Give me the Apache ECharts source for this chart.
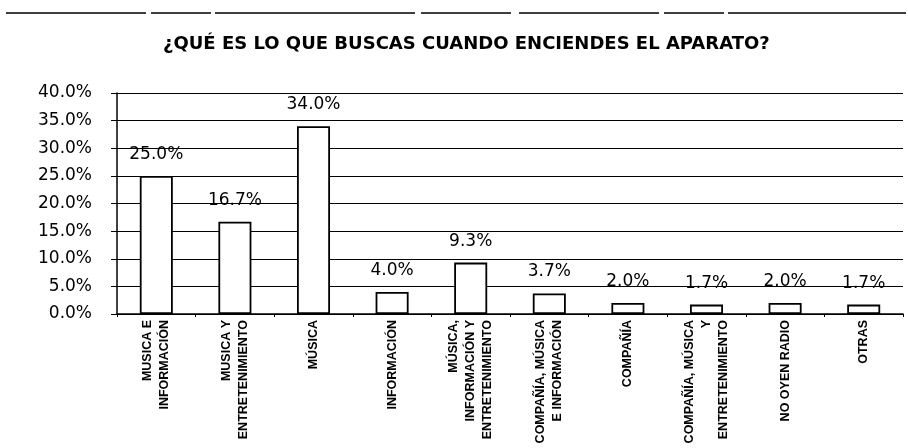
<!DOCTYPE html>
<html>
<head>
<meta charset="utf-8">
<script src="https://cdn.jsdelivr.net/npm/echarts@6/dist/echarts.min.js"></script>
<style>html,body{margin:0;padding:0;background:#fff}#c{width:908px;height:448px}</style>
</head>
<body>
<div id="c"></div>
<script>
const title = '¿QUÉ ES LO QUE BUSCAS CUANDO ENCIENDES EL APARATO?';
const categories = [
  'MUSICA E\nINFORMACIÓN',
  'MUSICA Y\nENTRETENIMIENTO',
  'MÚSICA',
  'INFORMACIÓN',
  'MÚSICA,\nINFORMACIÓN Y\nENTRETENIMIENTO',
  'COMPAÑÍA, MÚSICA\nE INFORMACIÓN',
  'COMPAÑÍA',
  'COMPAÑÍA, MÚSICA\nY\nENTRETENIMIENTO',
  'NO OYEN RADIO',
  'OTRAS'
];
const values = [25.0, 16.7, 34.0, 4.0, 9.3, 3.7, 2.0, 1.7, 2.0, 1.7];
const yTicks = {min: 0, max: 40, interval: 5};

const chart = echarts.init(document.getElementById('c'), null, {renderer: 'canvas'});
chart.setOption({
  animation: false,
  backgroundColor: '#fff',
  title: {
    text: title,
    left: 158,
    top: 30,
    textStyle: {fontFamily: 'DejaVu Sans', fontWeight: 'bold', fontSize: 18, color: '#000'}
  },
  graphic: [{
    type: 'line', shape: {x1: 6, y1: 13, x2: 906, y2: 13},
    style: {stroke: '#000', lineWidth: 1.5, lineDash: [140, 5, 60, 4, 200, 6, 90, 8]}
  }],
  grid: {left: 117, right: 5, top: 93, bottom: 134, containLabel: false},
  xAxis: {
    type: 'category',
    data: categories,
    axisLine: {lineStyle: {color: '#000', width: 1.5}},
    axisTick: {show: true, length: 3, lineStyle: {color: '#000'}},
    axisLabel: {
      rotate: 90, interval: 0, margin: 6,
      fontFamily: 'Liberation Sans Narrow, Liberation Sans, Arial',
      fontWeight: 'bold', fontSize: 12.5, lineHeight: 17, color: '#000'
    }
  },
  yAxis: {
    type: 'value',
    min: yTicks.min, max: yTicks.max, interval: yTicks.interval,
    axisLine: {show: true, lineStyle: {color: '#000', width: 1.5}},
    axisTick: {show: true, length: 6, inside: false, lineStyle: {color: '#000'}},
    axisLabel: {
      formatter: v => v.toFixed(1) + '%',
      fontFamily: 'DejaVu Sans', fontSize: 17, color: '#000', margin: 25
    },
    splitLine: {show: true, lineStyle: {color: '#000', width: 1.2}}
  },
  series: [{
    type: 'bar',
    data: values,
    barWidth: '42%',
    itemStyle: {color: '#fff', borderColor: '#000', borderWidth: 1.8},
    label: {
      show: true, position: 'top', distance: 13,
      formatter: p => p.value.toFixed(1) + '%',
      fontFamily: 'DejaVu Sans', fontSize: 17, color: '#000'
    }
  }]
});
</script>
</body>
</html>
